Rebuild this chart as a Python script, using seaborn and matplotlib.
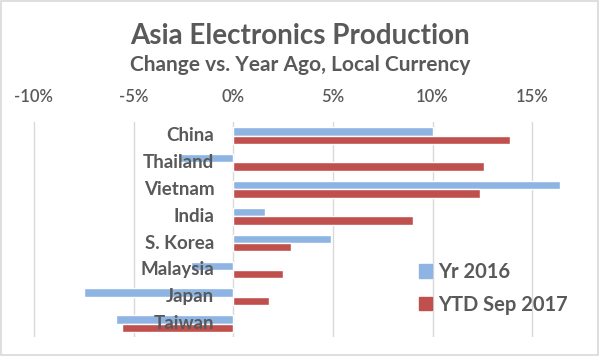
import matplotlib
matplotlib.use("Agg")
import matplotlib.pyplot as plt
import matplotlib.patches as mpatches
import pandas as pd
import seaborn as sns

PAISES = ['China', 'Thailand', 'Vietnam', 'India', 'S. Korea', 'Malaysia', 'Japan', 'Taiwan']
SERIES = ['Yr 2016', 'YTD Sep 2017']
YR_2016 = [10.0, -2.7, 16.4, 1.6, 4.9, -2.1, -7.5, -5.9]
YTD_2017 = [13.9, 12.6, 12.4, 9.0, 2.9, 2.5, 1.8, -5.6]
TICKS = [-10, -5, 0, 5, 10, 15]

COLORES = {'Yr 2016': '#8DB4E2', 'YTD Sep 2017': '#C0504D'}
GRIS = '#595959'
FUENTE = 'Lato'

df = pd.DataFrame({
    'pais': PAISES * 2,
    'serie': [SERIES[0]] * len(PAISES) + [SERIES[1]] * len(PAISES),
    'valor': YR_2016 + YTD_2017,
})

sns.set_style("white")
plt.rcParams['font.family'] = [FUENTE, 'DejaVu Sans']

fig = plt.figure(figsize=(6, 3.56), dpi=100)
ax = fig.add_axes([0.0067, 0.053, 0.98, 0.604])

sns.barplot(
    data=df, y='pais', x='valor', hue='serie',
    order=PAISES, hue_order=SERIES,
    palette=COLORES, orient='h',
    width=0.62, gap=0, saturation=1,
    legend=False, ax=ax,
)

ax.set_xlim(-11.5, 18)
ax.set_xticks(TICKS)
ax.set_xticklabels([f'{t}%' for t in TICKS], fontsize=12, color=GRIS,
                   fontweight='semibold')
ax.xaxis.tick_top()
ax.tick_params(axis='x', length=0, pad=12)
ax.set_yticks([])
ax.set_xlabel('')
ax.set_ylabel('')
ax.grid(axis='x', color='#D9D9D9', linewidth=1.0)
ax.set_axisbelow(True)
for s in ax.spines.values():
    s.set_visible(False)

# etiquetas de categoria pegadas al cero
for i, p in enumerate(PAISES):
    ax.annotate(p, xy=(0, i), xytext=(-19, 0), textcoords='offset pixels',
                ha='right', va='center', fontsize=13.5, fontweight='bold',
                color=GRIS, zorder=5)

fig.text(0.5, 0.90, 'Asia Electronics Production', ha='center', va='center',
         fontsize=20, fontweight='bold', color=GRIS)
fig.text(0.5, 0.818, 'Change vs. Year Ago, Local Currency', ha='center',
         va='center', fontsize=15, fontweight='bold', color=GRIS)

handles = [mpatches.Patch(color=COLORES[s], label=s) for s in SERIES]
leg = fig.legend(handles=handles, loc='upper left',
                 bbox_to_anchor=(401 / 600, 1 - 244 / 356),
                 frameon=False, handlelength=0.65, handleheight=0.65,
                 handletextpad=0.3, labelspacing=0.62,
                 prop={'family': FUENTE, 'size': 14.5, 'weight': 'bold'})
for t in leg.get_texts():
    t.set_color(GRIS)

fig.patches.append(mpatches.Rectangle((0.002, 0.003), 0.995, 0.993,
                                      transform=fig.transFigure, fill=False,
                                      edgecolor='#D9D9D9', linewidth=1.2))

fig.savefig('out.png', dpi=100, facecolor='white')
